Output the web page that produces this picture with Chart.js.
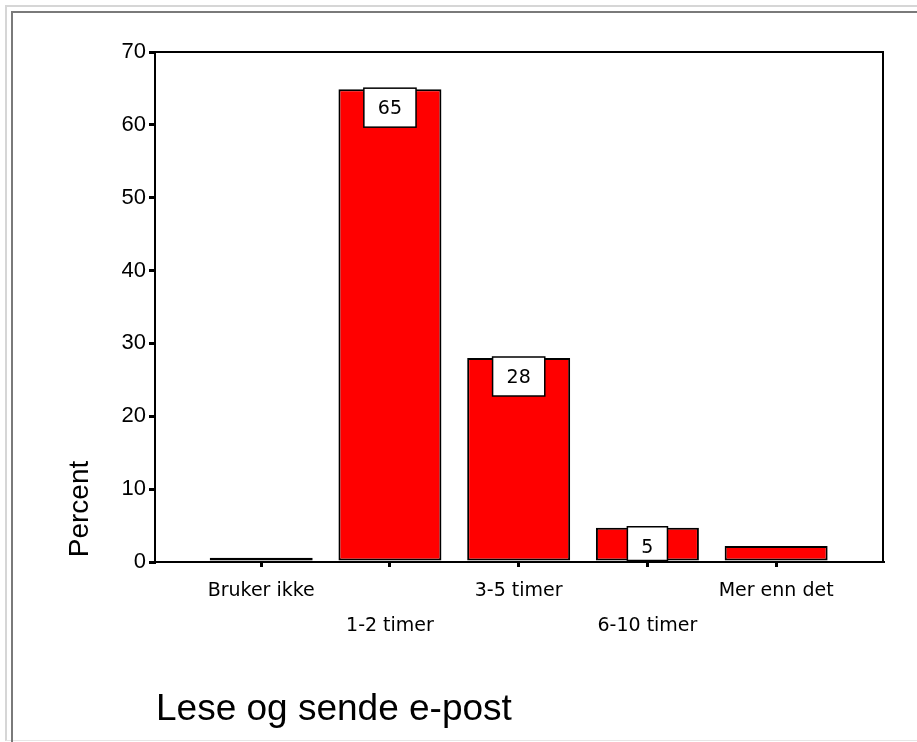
<!DOCTYPE html>
<html>
<head>
<meta charset="utf-8">
<script src="https://cdn.jsdelivr.net/npm/chart.js@4"></script>
<style>
  html, body { margin: 0; padding: 0; background: #fff; }
  #wrap { position: relative; width: 917px; height: 742px; overflow: hidden; }
  .frame1 { position: absolute; left: 5px; top: 5px; right: -10px; bottom: 1px;
            border-left: 2px solid #d6d6d6; border-top: 2px solid #d6d6d6; border-bottom: 1px solid #e6e6e6; }
  .frame2 { position: absolute; left: 11px; top: 11px; right: -10px; bottom: -10px;
            border-left: 2px solid #7a7a7a; border-top: 2px solid #7a7a7a; }
  canvas { position: absolute; left: 0; top: 0; }
</style>
</head>
<body>
<div id="wrap">
  <div class="frame1"></div>
  <div class="frame2"></div>
  <canvas id="chart" width="917" height="742"></canvas>
</div>
<script>
/* -------- DATA -------- */
const categories = ["Bruker ikke", "1-2 timer", "3-5 timer", "6-10 timer", "Mer enn det"];
const percentValues = [0.6, 64.9, 28.0, 4.7, 2.2];
const shownLabels = ["", "65", "28", "5", ""];
const yTicks = [0, 10, 20, 30, 40, 50, 60, 70];

const chartTitle = "Lese og sende e-post";
const yTitle = "Percent";

/* -------- EXTRA DRAWING: frame, value boxes, titles -------- */
const extras = {
    id: "extras",
    afterDatasetsDraw(chart) {
        const ctx = chart.ctx;
        const a = chart.chartArea;
        ctx.save();

        // box round the plot
        ctx.strokeStyle = "#000";
        ctx.lineWidth = 2;
        ctx.strokeRect(a.left, a.top, a.right - a.left, a.bottom - a.top);

        // value labels in white boxes
        const meta = chart.getDatasetMeta(0);
        ctx.font = "19px 'DejaVu Sans'";
        ctx.textAlign = "center";
        ctx.textBaseline = "middle";
        meta.data.forEach((bar, i) => {
            const txt = shownLabels[i];
            if (!txt) return;
            const w = ctx.measureText(txt).width + 28;
            const top = bar.y - 1;
            const h = Math.min(39, bar.base - top);
            ctx.fillStyle = "#fff";
            ctx.fillRect(bar.x - w / 2, top, w, h);
            ctx.lineWidth = 1.5;
            ctx.strokeStyle = "#000";
            ctx.strokeRect(bar.x - w / 2, top, w, h);
            ctx.fillStyle = "#000";
            ctx.fillText(txt, bar.x, top + 21);
        });

        // y axis title
        ctx.save();
        ctx.translate(88, 509);
        ctx.rotate(-Math.PI / 2);
        ctx.font = "28px 'Liberation Sans'";
        ctx.textAlign = "center";
        ctx.textBaseline = "alphabetic";
        ctx.fillStyle = "#000";
        ctx.fillText(yTitle, 0, 0);
        ctx.restore();

        // chart title at bottom left
        ctx.font = "37px 'Liberation Sans'";
        ctx.textAlign = "left";
        ctx.textBaseline = "alphabetic";
        ctx.fillStyle = "#000";
        ctx.fillText(chartTitle, 156, 720);

        ctx.restore();
    }
};

/* -------- CHART -------- */
const ctx = document.getElementById("chart").getContext("2d");

new Chart(ctx, {
    type: "bar",
    data: {
        datasets: [{
            label: yTitle,
            data: percentValues.map((v, i) => ({ x: i, y: v })),
            backgroundColor: "#ff0000",
            borderColor: "#000",
            borderWidth: 2,
            borderSkipped: false,
            barPercentage: 0.8,
            categoryPercentage: 1.0
        }]
    },
    options: {
        responsive: false,
        animation: false,
        layout: { padding: { top: 52, right: 34, bottom: 0, left: 0 } },
        plugins: {
            legend: { display: false },
            tooltip: { enabled: false }
        },
        scales: {
            x: {
                type: "linear",
                offset: false,
                min: -0.825,
                max: 4.83,
                afterBuildTicks: s => { s.ticks = categories.map((c, i) => ({ value: i })); },
                afterFit: s => { s.height = 180; },
                ticks: {
                    color: "#000",
                    font: { family: "'DejaVu Sans'", size: 19, lineHeight: 1.85 },
                    padding: 6,
                    maxRotation: 0,
                    autoSkip: false,
                    callback: v => (v % 2 === 1) ? ["", categories[v]] : categories[v]
                },
                grid: {
                    offset: false,
                    drawOnChartArea: false,
                    color: "#000",
                    lineWidth: 3,
                    tickLength: 5
                },
                border: { display: true, color: "#000", width: 2 }
            },
            y: {
                min: 0,
                max: 70,
                afterBuildTicks: s => { s.ticks = yTicks.map(v => ({ value: v })); },
                afterFit: s => { s.width = 155; },
                ticks: {
                    color: "#000",
                    font: { family: "'Liberation Sans'", size: 22 },
                    padding: 3
                },
                grid: {
                    drawOnChartArea: false,
                    color: "#000",
                    lineWidth: 3,
                    tickLength: 6
                },
                border: { display: true, color: "#000", width: 2 }
            }
        }
    },
    plugins: [extras]
});
</script>
</body>
</html>
